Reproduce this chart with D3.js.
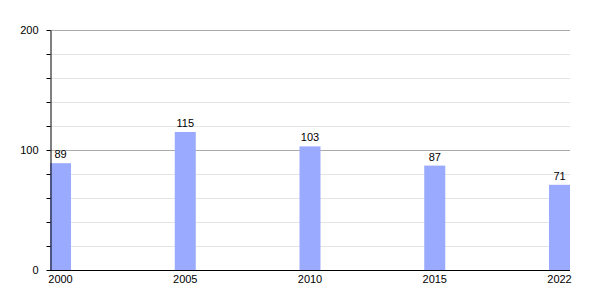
<!DOCTYPE html>
<html>
<head>
<meta charset="utf-8">
<script src="https://cdn.jsdelivr.net/npm/d3@7"></script>
<style>
  body { margin: 0; background: #fff; }
  svg { font-family: "Liberation Sans", Arial, sans-serif; }
</style>
</head>
<body>
<div id="chart"></div>
<script>
const years = ["2000", "2005", "2010", "2015", "2022"];
const values = [89, 115, 103, 87, 71];
const majorTicks = [0, 100, 200];
const minorTicks = [20, 40, 60, 80, 120, 140, 160, 180];

const width = 600, height = 300;
const plotLeft = 50, plotRight = 570, plotTop = 30, plotBottom = 270;
const barWidth = 21;

const svg = d3.select("#chart").append("svg")
    .attr("width", width)
    .attr("height", height);

// scales
const x = d3.scalePoint()
    .domain(years)
    .range([plotLeft, plotRight - barWidth]);

const y = d3.scaleLinear()
    .domain([0, 200])
    .range([plotBottom, plotTop]);

// minor grid
svg.append("g")
    .selectAll("line")
    .data(minorTicks)
    .enter().append("line")
    .attr("x1", plotLeft).attr("x2", plotRight)
    .attr("y1", d => y(d) + 0.5).attr("y2", d => y(d) + 0.5)
    .attr("stroke", "#e4e4e4");

// major grid
svg.append("g")
    .selectAll("line")
    .data(majorTicks.filter(d => d > 0))
    .enter().append("line")
    .attr("x1", plotLeft).attr("x2", plotRight)
    .attr("y1", d => y(d) + 0.5).attr("y2", d => y(d) + 0.5)
    .attr("stroke", "#aaaaaa");

// bars
svg.append("g")
    .selectAll("rect")
    .data(values)
    .enter().append("rect")
    .attr("x", (d, i) => x(years[i]))
    .attr("y", d => y(d))
    .attr("width", barWidth)
    .attr("height", d => plotBottom - y(d))
    .attr("fill", "#99aaff");

// value labels
svg.append("g")
    .selectAll("text")
    .data(values)
    .enter().append("text")
    .attr("x", (d, i) => x(years[i]) + barWidth / 2)
    .attr("y", d => y(d) - 5)
    .attr("text-anchor", "middle")
    .attr("font-size", "11px")
    .attr("fill", "#000")
    .text(d => d);

// y axis: minor ticks
svg.append("g")
    .attr("transform", `translate(${plotLeft + 0.5},0)`)
    .call(d3.axisLeft(y).tickValues(minorTicks).tickSize(4).tickFormat(""))
    .call(g => g.select(".domain").remove());

// y axis: major ticks + labels
svg.append("g")
    .attr("transform", `translate(${plotLeft + 0.5},0)`)
    .call(d3.axisLeft(y).tickValues(majorTicks).tickSize(4).tickPadding(8).tickSizeOuter(0))
    .call(g => g.selectAll("text").attr("font-size", "11px").attr("font-family", "Liberation Sans, Arial, sans-serif"))
    .call(g => g.selectAll("line, path").attr("stroke", "#000"));

// x axis
svg.append("g")
    .attr("transform", `translate(0,${plotBottom + 0.5})`)
    .call(d3.axisBottom(x).tickSize(0).tickPadding(5).tickSizeOuter(0))
    .call(g => g.select(".domain").attr("d", `M${plotLeft},0H${plotRight}`).attr("stroke", "#000"))
    .call(g => g.selectAll(".tick").attr("transform", d => `translate(${x(d) + barWidth / 2},0)`))
    .call(g => g.selectAll("text").attr("font-size", "11px").attr("font-family", "Liberation Sans, Arial, sans-serif"));
</script>
</body>
</html>
